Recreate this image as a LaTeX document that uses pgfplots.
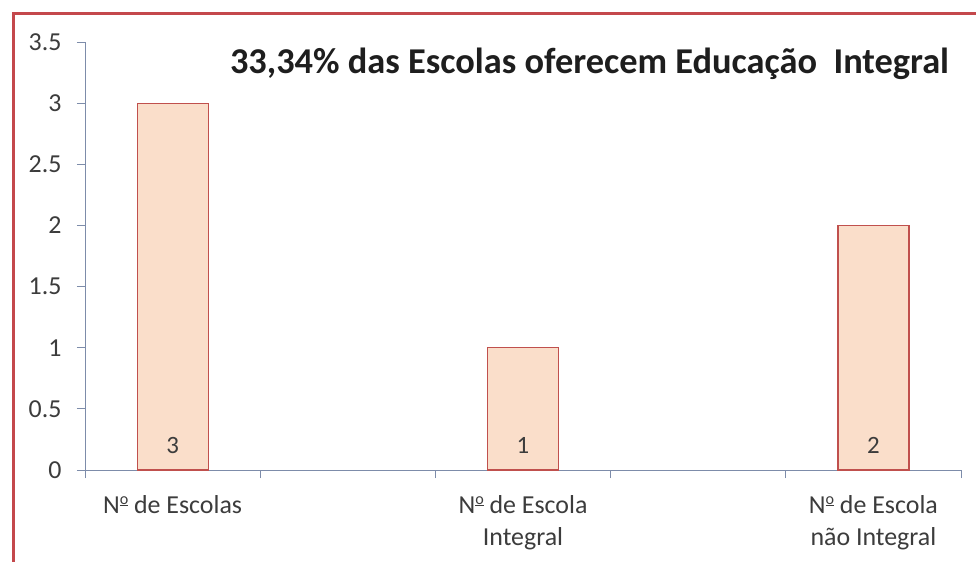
\documentclass[border=0pt]{standalone}
\usepackage{pgfplots}
\pgfplotsset{compat=1.18}
\usepackage{graphicx}
\usepackage{fontspec}
\setmainfont{Carlito}
\definecolor{barfill}{RGB}{250,222,202}
\definecolor{baredge}{RGB}{192,80,77}
\definecolor{axcol}{RGB}{125,140,170}
\definecolor{txt}{RGB}{60,60,60}
\definecolor{ttl}{RGB}{30,30,30}
\definecolor{framec}{RGB}{196,72,76}
\newcommand{\numo}{\raisebox{0.36em}{\scalebox{0.62}{\underline{o}}}}
\begin{document}
\begin{tikzpicture}
\useasboundingbox (0bp,0bp) rectangle (976bp,562bp);
\fill[white] (0bp,0bp) rectangle (976bp,562bp);
\draw[framec, line width=3bp] (13bp,0bp) -- (13bp,548bp) -- (980bp,548bp);
\begin{axis}[
  at={(85bp,92bp)}, anchor=south west,
  scale only axis, width=876bp, height=428bp,
  xmin=0.5, xmax=5.5, ymin=0, ymax=3.5,
  axis lines*=left,
  axis line style={draw=axcol, line width=0.8bp},
  tick align=outside,
  xtick={1,3,5},
  xticklabels={N\numo{} de Escolas, {N\numo{} de Escola\\Integral}, {N\numo{} de Escola\\não Integral}},
  minor xtick={0.5,1.5,2.5,3.5,4.5,5.5},
  major x tick style={draw=none},
  minor x tick style={draw=axcol, line width=0.8bp},
  minor tick length=8bp,
  major tick length=8bp,
  ytick={0,0.5,1,1.5,2,2.5,3,3.5},
  y tick style={draw=axcol, line width=0.8bp},
  /pgf/number format/assume math mode=true,
  yticklabel style={font=\fontsize{26}{30}\selectfont, text=txt, xshift=-12bp},
  xticklabel style={font=\fontsize{26}{32}\selectfont, text=txt, align=center, yshift=-14bp},
  clip=false,
]
\addplot[ybar, bar width=71bp, fill=barfill, draw=baredge, line width=1.2bp] coordinates {(1,3) (3,1) (5,2)};
\addplot[draw=none, mark=none, nodes near coords, point meta=explicit symbolic,
  every node near coord/.append style={anchor=center, font=\fontsize{25}{29}\selectfont, text=txt}]
  coordinates {(1,0.2)[3] (3,0.2)[1] (5,0.2)[2]};
\node[font=\bfseries\fontsize{36.5}{42}\selectfont, text=ttl] at (rel axis cs:0.576,0.95) {33,34\% das Escolas oferecem Educação\ \ Integral};
\end{axis}
\end{tikzpicture}
\end{document}
